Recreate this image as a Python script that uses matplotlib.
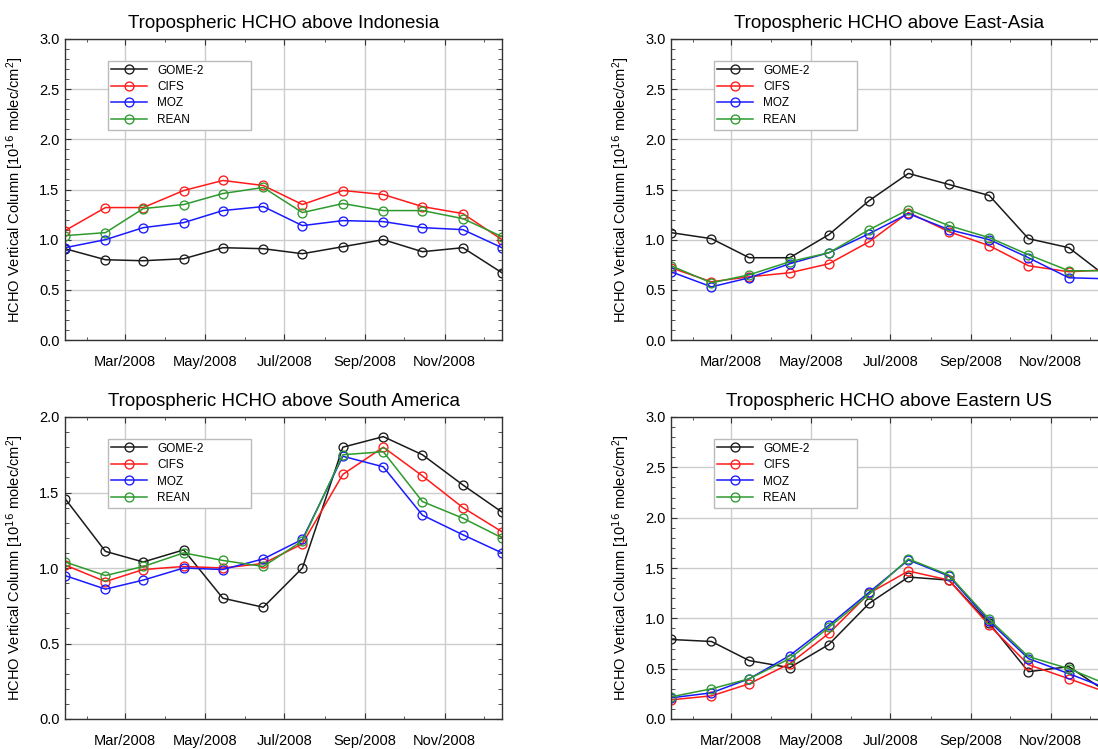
import numpy as np
import matplotlib
matplotlib.use('Agg')
import matplotlib.pyplot as plt
import matplotlib.dates as mdates
import matplotlib.ticker as ticker

# monthly means, plotted mid-month
months = np.array(['2008-01-15', '2008-02-15', '2008-03-15', '2008-04-15',
                   '2008-05-15', '2008-06-15', '2008-07-15', '2008-08-15',
                   '2008-09-15', '2008-10-15', '2008-11-15', '2008-12-15'],
                  dtype='datetime64[D]')
labels = ['GOME-2', 'CIFS', 'MOZ', 'REAN']
colors = ['#1a1a1a', '#ff1a1a', '#1a1aff', '#2e9a2e']

indonesia_gome2 = [0.91, 0.80, 0.79, 0.81, 0.92, 0.91, 0.86, 0.93, 1.00, 0.88, 0.92, 0.67]
indonesia_cifs = [1.09, 1.32, 1.32, 1.49, 1.59, 1.54, 1.35, 1.49, 1.45, 1.33, 1.26, 1.00]
indonesia_moz = [0.92, 1.00, 1.12, 1.17, 1.29, 1.33, 1.14, 1.19, 1.18, 1.12, 1.10, 0.92]
indonesia_rean = [1.04, 1.07, 1.31, 1.35, 1.46, 1.52, 1.27, 1.36, 1.29, 1.29, 1.21, 1.03]

eastasia_gome2 = [1.07, 1.01, 0.82, 0.82, 1.05, 1.39, 1.66, 1.55, 1.44, 1.01, 0.92, 0.62]
eastasia_cifs = [0.72, 0.58, 0.63, 0.67, 0.76, 0.98, 1.27, 1.08, 0.94, 0.74, 0.68, 0.70]
eastasia_moz = [0.68, 0.53, 0.62, 0.76, 0.87, 1.06, 1.26, 1.10, 1.00, 0.82, 0.62, 0.61]
eastasia_rean = [0.74, 0.57, 0.65, 0.78, 0.87, 1.10, 1.30, 1.14, 1.02, 0.85, 0.69, 0.69]

samerica_gome2 = [1.46, 1.11, 1.04, 1.12, 0.80, 0.74, 1.00, 1.80, 1.87, 1.75, 1.55, 1.37]
samerica_cifs = [1.02, 0.91, 0.99, 1.01, 1.00, 1.03, 1.16, 1.62, 1.80, 1.61, 1.40, 1.24]
samerica_moz = [0.95, 0.86, 0.92, 1.00, 0.99, 1.06, 1.19, 1.74, 1.67, 1.35, 1.22, 1.10]
samerica_rean = [1.04, 0.95, 1.01, 1.10, 1.05, 1.01, 1.18, 1.75, 1.77, 1.44, 1.33, 1.20]

eastus_gome2 = [0.79, 0.77, 0.58, 0.51, 0.74, 1.15, 1.41, 1.38, 0.95, 0.47, 0.52, 0.26]
eastus_cifs = [0.19, 0.23, 0.35, 0.55, 0.85, 1.25, 1.47, 1.38, 0.93, 0.54, 0.40, 0.26]
eastus_moz = [0.21, 0.26, 0.40, 0.63, 0.93, 1.26, 1.58, 1.42, 0.97, 0.60, 0.45, 0.30]
eastus_rean = [0.22, 0.30, 0.40, 0.60, 0.91, 1.24, 1.59, 1.43, 0.99, 0.62, 0.50, 0.34]

plt.rcParams['font.family'] = ['Liberation Sans', 'DejaVu Sans']
plt.rcParams['mathtext.fontset'] = 'custom'
plt.rcParams['mathtext.rm'] = 'Liberation Sans'
plt.rcParams['mathtext.default'] = 'regular'

W, H = 1098, 749
fig = plt.figure(figsize=(W/100, H/100), dpi=100)


def panel(rect, title, series, ymax):
    # rect in pixels: left, top, width, height
    l, t, w, h = rect
    ax = fig.add_axes([l/W, 1 - (t + h)/H, w/W, h/H])
    for vals, lab, col in zip(series, labels, colors):
        ax.plot(months, vals, '-o', color=col, lw=1.1, ms=6.4, mfc='none',
                mew=0.95, label=lab)
    ax.set_xlim(np.datetime64('2008-01-15'), np.datetime64('2008-12-15'))
    ax.set_ylim(0, ymax)
    ax.xaxis.set_major_locator(mdates.MonthLocator(bymonth=[3, 5, 7, 9, 11]))
    ax.xaxis.set_minor_locator(mdates.MonthLocator())
    ax.xaxis.set_major_formatter(mdates.DateFormatter('%b/%Y'))
    ax.yaxis.set_major_locator(ticker.MultipleLocator(0.5))
    ax.yaxis.set_minor_locator(ticker.MultipleLocator(0.1))
    ax.yaxis.set_major_formatter(ticker.FormatStrFormatter('%.1f'))
    ax.grid(True, which='major', color='#cccccc', lw=1.0)
    ax.set_axisbelow(True)
    ax.tick_params(which='both', direction='in', top=True, right=True,
                   labelsize=10.5, color='#333333')
    ax.tick_params(axis='x', which='major', length=4, pad=11)
    ax.tick_params(axis='x', which='minor', length=2.5)
    ax.tick_params(axis='y', which='major', length=4.5, pad=4)
    ax.tick_params(axis='y', which='minor', length=3.2)
    for sp in ax.spines.values():
        sp.set_color('#333333')
        sp.set_linewidth(1.0)
    ax.set_title(title, fontsize=13.5, pad=8)
    ax.set_ylabel('HCHO Vertical Column [10$^{\\mathsf{16}}$ molec/cm$^{2}$]',
                  fontsize=10.5)
    ax.yaxis.set_label_coords(-0.092, 0.5)
    leg = ax.legend(loc='upper left', bbox_to_anchor=(0.098, 0.70, 0.327, 0.227),
                    mode='expand', borderaxespad=0, fontsize=8.5,
                    handlelength=3.0, handletextpad=0.9, borderpad=0.3,
                    labelspacing=0.38, fancybox=False, framealpha=1,
                    edgecolor='#bbbbbb')
    leg.get_frame().set_linewidth(1.0)
    return ax


panel((65, 39, 437, 301), 'Tropospheric HCHO above Indonesia',
      [indonesia_gome2, indonesia_cifs, indonesia_moz, indonesia_rean], 3.0)
panel((671, 39, 437, 301), 'Tropospheric HCHO above East-Asia',
      [eastasia_gome2, eastasia_cifs, eastasia_moz, eastasia_rean], 3.0)
panel((65, 417, 437, 302), 'Tropospheric HCHO above South America',
      [samerica_gome2, samerica_cifs, samerica_moz, samerica_rean], 2.0)
panel((671, 417, 437, 302), 'Tropospheric HCHO above Eastern US',
      [eastus_gome2, eastus_cifs, eastus_moz, eastus_rean], 3.0)

fig.savefig('out.png', dpi=100)
